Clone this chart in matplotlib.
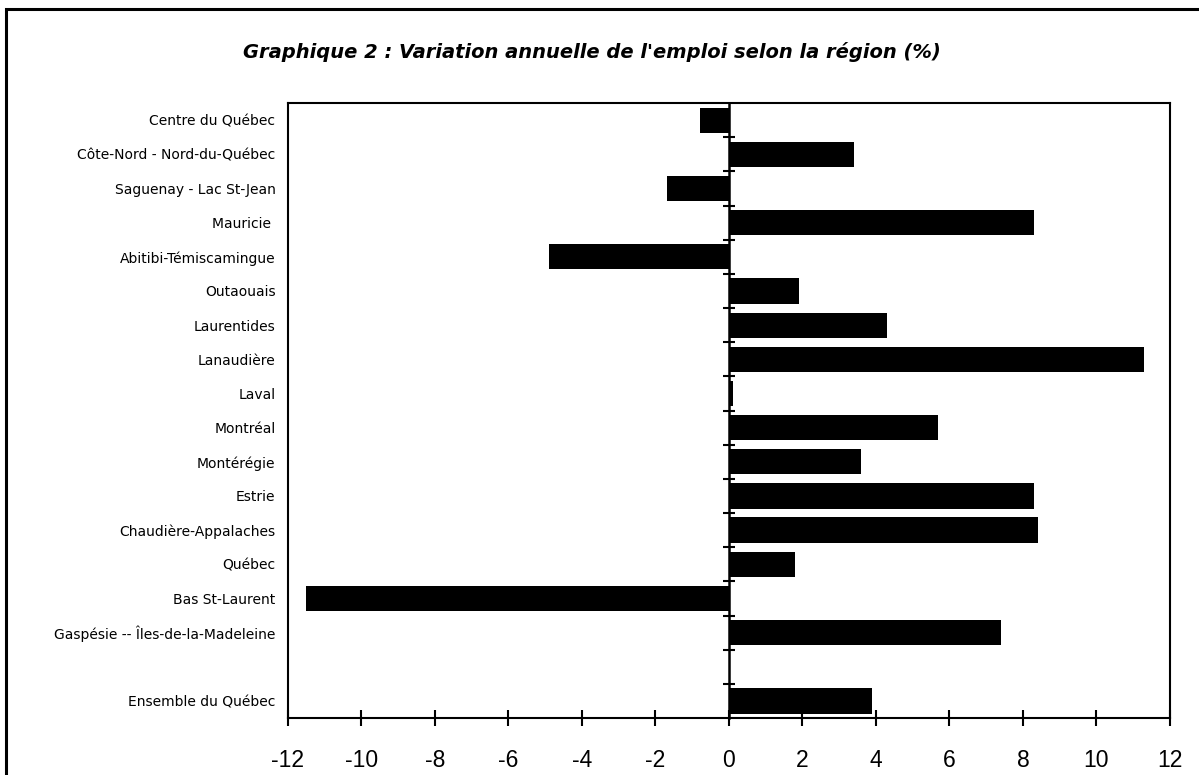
import numpy as np
import matplotlib.pyplot as plt
from matplotlib.patches import Rectangle

plt.rcParams['font.family'] = ['Liberation Sans', 'DejaVu Sans']

# regions, top to bottom
regions = ['Centre du Québec', 'Côte-Nord - Nord-du-Québec', 'Saguenay - Lac St-Jean',
           'Mauricie ', 'Abitibi-Témiscamingue', 'Outaouais', 'Laurentides', 'Lanaudière',
           'Laval', 'Montréal', 'Montérégie', 'Estrie', 'Chaudière-Appalaches', 'Québec',
           'Bas St-Laurent', 'Gaspésie -- Îles-de-la-Madeleine']
variation = [-0.8, 3.4, -1.7, 8.3, -4.9, 1.9, 4.3, 11.3,
             0.1, 5.7, 3.6, 8.3, 8.4, 1.8, -11.5, 7.4]
total_label = 'Ensemble du Québec'
total_value = 3.9
xticks = list(range(-12, 13, 2))

# one empty slot between the regions and the total
n = len(regions)
pos_regions = np.arange(n)[::-1] + 2
pos_total = 0
labels = regions + [total_label]
positions = list(pos_regions) + [pos_total]
values = variation + [total_value]

fig = plt.figure(figsize=(11.99, 7.75), dpi=100)
ax = fig.add_axes([0.2402, 0.0735, 0.7356, 0.7935])

ax.barh(positions, values, height=0.74, color='black')

ax.set_xlim(-12, 12)
ax.set_ylim(-0.5, n + 1.5)
ax.set_xticks(xticks)
ax.set_xticklabels([str(t) for t in xticks])
ax.tick_params(axis='x', direction='inout', length=11, width=1.5, labelsize=16.5, pad=17)
ax.set_yticks(positions)
ax.set_yticklabels(labels, fontfamily='DejaVu Sans')
ax.tick_params(axis='y', length=0, labelsize=10, pad=9)
for s in ax.spines.values():
    s.set_linewidth(1.5)

# zero line with category separators
sec = ax.secondary_yaxis(0.5)
sec.set_yticks(np.arange(0.5, n + 1.5, 1.0))
sec.set_yticklabels([])
sec.tick_params(direction='inout', length=9, width=1.5)
for s in sec.spines.values():
    s.set_linewidth(1.8)

fig.text(0.494, 0.933, "Graphique 2 : Variation annuelle de l'emploi selon la région (%)",
         ha='center', va='center', fontsize=14, fontweight='bold', fontstyle='italic',
         fontfamily='DejaVu Sans')

fig.patches.append(Rectangle((0.005, -0.1), 1.2, 1.0884, transform=fig.transFigure,
                             fill=False, linewidth=2.2, edgecolor='black'))

fig.savefig('out.png', dpi=100)
